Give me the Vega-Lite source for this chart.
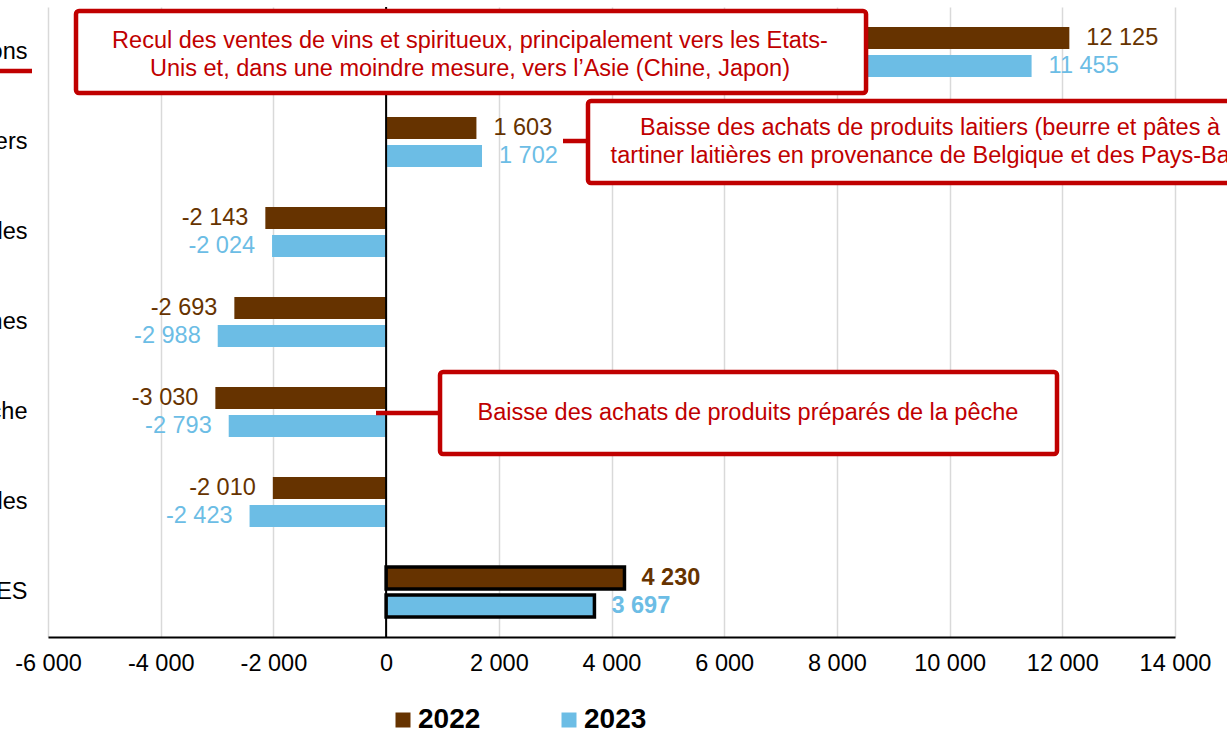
{
  "$schema": "https://vega.github.io/schema/vega-lite/v6.json",
  "width": 1127,
  "height": 630,
  "autosize": {"type": "none"},
  "padding": {"left": 48, "top": 7, "right": 52, "bottom": 94},
  "background": "white",
  "config": {
    "font": "Liberation Sans",
    "view": {"stroke": null},
    "locale": {"number": {"decimal": ",", "thousands": " ", "grouping": [3], "currency": ["", " €"], "minus": "-"}},
    "legend": {
      "orient": "none",
      "legendX": 341,
      "legendY": 699,
      "direction": "horizontal",
      "padding": 0,
      "symbolType": "square",
      "symbolSize": 225,
      "symbolStrokeWidth": 0,
      "symbolOpacity": 1,
      "labelFontSize": 28,
      "labelFontWeight": "bold",
      "labelColor": "black",
      "labelOffset": 1,
      "columnPadding": 74
    }
  },
  "datasets": {
    "ventes": [
      {"categorie": "Boissons", "annee": "2022", "solde": 12125, "total": false},
      {"categorie": "Boissons", "annee": "2023", "solde": 11455, "total": false},
      {"categorie": "Produits laitiers", "annee": "2022", "solde": 1603, "total": false},
      {"categorie": "Produits laitiers", "annee": "2023", "solde": 1702, "total": false},
      {"categorie": "Huiles et graisses végétales et animales", "annee": "2022", "solde": -2143, "total": false},
      {"categorie": "Huiles et graisses végétales et animales", "annee": "2023", "solde": -2024, "total": false},
      {"categorie": "Fruits, légumes et graines", "annee": "2022", "solde": -2693, "total": false},
      {"categorie": "Fruits, légumes et graines", "annee": "2023", "solde": -2988, "total": false},
      {"categorie": "Produits de la pêche", "annee": "2022", "solde": -3030, "total": false},
      {"categorie": "Produits de la pêche", "annee": "2023", "solde": -2793, "total": false},
      {"categorie": "Préparations à base de céréales", "annee": "2022", "solde": -2010, "total": false},
      {"categorie": "Préparations à base de céréales", "annee": "2023", "solde": -2423, "total": false},
      {"categorie": "TOTAL PRODUITS AGROALIMENTAIRES", "annee": "2022", "solde": 4230, "total": true},
      {"categorie": "TOTAL PRODUITS AGROALIMENTAIRES", "annee": "2023", "solde": 3697, "total": true}
    ],
    "notes": [
      {"x1": -5503, "x2": 8517, "y1": 0.044, "y2": 0.956, "tx": 1489, "ty": 0.378, "texte": "Recul des ventes de vins et spiritueux, principalement vers les Etats-\nUnis et, dans une moindre mesure, vers l’Asie (Chine, Japon)"},
      {"x1": 3583, "x2": 17000, "y1": 1.044, "y2": 1.956, "tx": 9652, "ty": 1.344, "texte": "Baisse des achats de produits laitiers (beurre et pâtes à\ntartiner laitières en provenance de Belgique et des Pays-Bas)"},
      {"x1": 957, "x2": 11906, "y1": 4.056, "y2": 4.967, "tx": 6422, "ty": 4.511, "texte": "Baisse des achats de produits préparés de la pêche"}
    ],
    "liens": [
      {"x1": -6852, "x2": -6284, "y": 0.711},
      {"x1": 3139, "x2": 3583, "y": 1.489},
      {"x1": -179, "x2": 957, "y": 4.511}
    ]
  },
  "resolve": {"scale": {"y": "independent"}},
  "layer": [
    {
      "layer": [
        {
          "data": {"name": "ventes"},
          "encoding": {
            "y": {
              "field": "categorie",
              "type": "nominal",
              "sort": null,
              "scale": {
                "domain": ["Boissons", "Produits laitiers", "Huiles et graisses végétales et animales", "Fruits, légumes et graines", "Produits de la pêche", "Préparations à base de céréales", "TOTAL PRODUITS AGROALIMENTAIRES"],
                "paddingInner": 0.4444,
                "paddingOuter": 0.2222
              },
              "axis": {"title": null, "domain": false, "ticks": false, "labelFontSize": 23.5, "labelColor": "black", "labelPadding": 21, "labelLimit": 1000}
            },
            "yOffset": {
              "field": "annee",
              "type": "nominal",
              "scale": {"domain": ["2022", "2023"], "paddingInner": 0.214, "paddingOuter": 0}
            },
            "x": {
              "field": "solde",
              "type": "quantitative",
              "scale": {"domain": [-6000, 14000], "nice": false, "zero": false},
              "axis": {
                "title": null,
                "values": [-6000, -4000, -2000, 0, 2000, 4000, 6000, 8000, 10000, 12000, 14000],
                "format": ",d",
                "grid": true,
                "gridColor": "#D9D9D9",
                "gridWidth": 1.5,
                "domainColor": "black",
                "domainWidth": 2,
                "ticks": false,
                "labelFontSize": 23.5,
                "labelColor": "black",
                "labelPadding": 14,
                "labelFlush": false,
                "labelOverlap": false
              }
            },
            "color": {
              "field": "annee",
              "type": "nominal",
              "scale": {"domain": ["2022", "2023"], "range": ["#663300", "#6CBDE5"]},
              "legend": {"title": null}
            }
          },
          "layer": [
            {
              "mark": {"type": "bar", "strokeWidth": 3.5},
              "encoding": {"stroke": {"condition": {"test": "datum.total", "value": "black"}, "value": "transparent"}}
            },
            {
              "transform": [{"filter": "datum.solde >= 0 && !datum.total"}],
              "mark": {"type": "text", "align": "left", "baseline": "middle", "dx": 17, "fontSize": 23.5},
              "encoding": {"text": {"field": "solde", "type": "quantitative", "format": ",d"}}
            },
            {
              "transform": [{"filter": "datum.solde < 0"}],
              "mark": {"type": "text", "align": "right", "baseline": "middle", "dx": -17, "fontSize": 23.5},
              "encoding": {"text": {"field": "solde", "type": "quantitative", "format": ",d"}}
            },
            {
              "transform": [{"filter": "datum.total"}],
              "mark": {"type": "text", "align": "left", "baseline": "middle", "dx": 17, "fontSize": 23.5, "fontWeight": "bold"},
              "encoding": {"text": {"field": "solde", "type": "quantitative", "format": ",d"}}
            }
          ]
        },
        {
          "data": {"values": [{"origine": 0}]},
          "mark": {"type": "rule", "color": "black", "strokeWidth": 2},
          "encoding": {"x": {"field": "origine", "type": "quantitative"}}
        }
      ]
    },
    {
      "layer": [
        {
          "data": {"name": "liens"},
          "mark": {"type": "rule", "color": "#C00000", "strokeWidth": 4.5},
          "encoding": {
            "x": {"field": "x1", "type": "quantitative"},
            "x2": {"field": "x2"},
            "y": {"field": "y", "type": "quantitative", "scale": {"domain": [0, 7], "reverse": true, "nice": false, "zero": false}, "axis": null}
          }
        },
        {
          "data": {"name": "notes"},
          "mark": {"type": "rect", "fill": "white", "stroke": "#C00000", "strokeWidth": 4.5, "cornerRadius": 3},
          "encoding": {
            "x": {"field": "x1", "type": "quantitative"},
            "x2": {"field": "x2"},
            "y": {"field": "y1", "type": "quantitative", "scale": {"domain": [0, 7], "reverse": true, "nice": false, "zero": false}, "axis": null},
            "y2": {"field": "y2"}
          }
        },
        {
          "data": {"name": "notes"},
          "mark": {"type": "text", "align": "center", "baseline": "middle", "fontSize": 23.5, "color": "#C00000", "lineBreak": "\n", "lineHeight": 28},
          "encoding": {
            "x": {"field": "tx", "type": "quantitative"},
            "y": {"field": "ty", "type": "quantitative", "scale": {"domain": [0, 7], "reverse": true, "nice": false, "zero": false}, "axis": null},
            "text": {"field": "texte", "type": "nominal"}
          }
        }
      ]
    }
  ]
}
